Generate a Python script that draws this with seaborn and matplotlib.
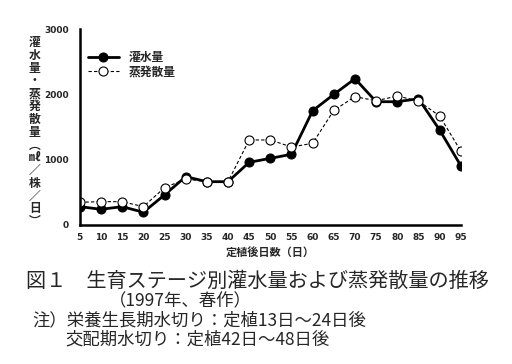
import numpy as np
import pandas as pd
import matplotlib
matplotlib.use('Agg')
import matplotlib.pyplot as plt
import seaborn as sns

# Datos
dias = [5, 10, 15, 20, 25, 30, 35, 40, 45, 50, 55, 60, 65, 70, 75, 80, 85, 90, 95]
riego = [280, 240, 280, 195, 460, 740, 663, 663, 960, 1020, 1083, 1750, 2000, 2240, 1888, 1888, 1934, 1455, 908]
evapo = [347, 357, 357, 280, 571, 704, 663, 663, 1302, 1302, 1194, 1251, 1756, 1965, 1903, 1975, 1899, 1669, 1133]
y_ticks = [0, 1000, 2000, 3000]

serie_riego = '灌水量'
serie_evapo = '蒸発散量'
ylabel = '灌水量・蒸発散量︵㎖／株／日︶'
xlabel = '定植後日数（日）'
caption = ['図１　生育ステージ別灌水量および蒸発散量の推移',
           '（1997年、春作）',
           '注）栄養生長期水切り：定植13日～24日後',
           '交配期水切り：定植42日～48日後']

sns.set_style("white")
plt.rcParams['font.family'] = ['Noto Sans CJK JP', 'DejaVu Sans']

df = pd.DataFrame({'dia': dias, serie_riego: riego, serie_evapo: evapo})

fig = plt.figure(figsize=(5.12, 3.64), dpi=100)
ax = fig.add_axes([0.156, 0.382, 0.744, 0.538])

sns.lineplot(data=df, x='dia', y=serie_riego, ax=ax, color='black', linewidth=2,
             marker='o', markersize=6.5, markerfacecolor='black', markeredgecolor='black',
             label=serie_riego)
sns.lineplot(data=df, x='dia', y=serie_evapo, ax=ax, color='black', linewidth=0.8,
             linestyle=(0, (3, 2)), marker='o', markersize=6.5, markerfacecolor='white',
             markeredgecolor='black', markeredgewidth=0.8, label=serie_evapo)

ax.set_xlim(5, 95)
ax.set_ylim(0, 3000)
ax.set_xticks(dias)
ax.set_xticklabels([str(d) for d in dias], fontsize=6.5, fontweight='bold', family='DejaVu Sans')
ax.set_yticks(y_ticks)
ax.set_yticklabels([str(v) for v in y_ticks], fontsize=6.5, fontweight='bold', family='DejaVu Sans')
ax.tick_params(axis='x', direction='in', length=3, width=1.2, pad=6)
ax.tick_params(axis='y', direction='in', length=0, pad=8)
for s in ['top', 'right']:
    ax.spines[s].set_visible(False)
for s in ['left', 'bottom']:
    ax.spines[s].set_linewidth(1.8)
    ax.spines[s].set_color('black')
ax.set_xlabel(xlabel, fontsize=8, fontweight='bold', labelpad=3)
ax.set_ylabel('')

leg = ax.legend(loc='upper left', bbox_to_anchor=(0.0, 0.93), frameon=False,
                fontsize=8.5, handlelength=2.6, labelspacing=0.1, borderaxespad=0.3)
for t in leg.get_texts():
    t.set_fontweight('bold')

fig.text(0.068, 0.637, '\n'.join(ylabel), fontsize=8.5, fontweight='bold', ha='center',
         va='center', linespacing=0.98)

fig.text(0.05, 0.226, caption[0], fontsize=14.5, ha='left', va='center')
fig.text(0.212, 0.172, caption[1], fontsize=12.5, ha='left', va='center')
fig.text(0.063, 0.120, caption[2], fontsize=12.5, ha='left', va='center')
fig.text(0.127, 0.068, caption[3], fontsize=12.5, ha='left', va='center')

plt.savefig('out.png', dpi=100)
